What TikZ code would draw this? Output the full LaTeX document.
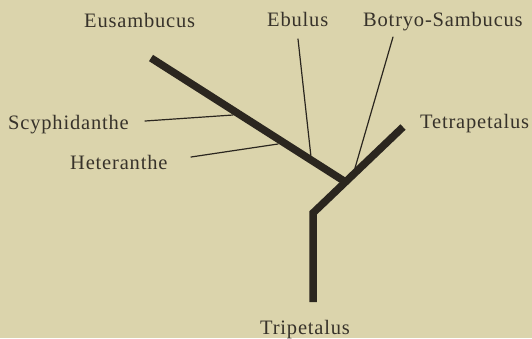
\documentclass[tikz,border=0pt]{standalone}
\usepackage{fontspec}
\setmainfont{Liberation Serif}
\newfontfamily\labfont[LetterSpace=4]{Liberation Serif}
\definecolor{paper}{HTML}{DBD4AC}
\definecolor{ink}{HTML}{2B261F}
\definecolor{txt}{HTML}{37322A}
\tikzset{
  lab/.style={anchor=base west, inner sep=0pt, text=txt, font=\labfont\fontsize{20.5}{24}\selectfont},
  thick branch/.style={draw=ink, line width=7.5pt, line cap=butt, line join=miter},
  thin line/.style={draw=ink, line width=1.2pt, line cap=round}
}
\begin{document}
\begin{tikzpicture}[x=1pt,y=-1pt]
\fill[paper] (0,0) rectangle (532,338);
\useasboundingbox (0,0) rectangle (532,338);
% labels
\node[lab] (eus) at (84,27) {Eusambucus};
\node[lab] (ebu) at (267,26) {Ebulus};
\node[lab] (bot) at (363,26) {Botryo-Sambucus};
\node[lab] (scy) at (8,129) {Scyphidanthe};
\node[lab] (het) at (70,169) {Heteranthe};
\node[lab] (tet) at (420,128) {Tetrapetalus};
\node[lab] (tri) at (260,334) {Tripetalus};
% branch points
\coordinate (eusEnd) at (151,58);
\coordinate (join) at (344,181);
\coordinate (tetEnd) at (403,127);
\coordinate (elbow) at (313,213);
\coordinate (triEnd) at (313,302);
\coordinate (scyA) at (145,121);
\coordinate (scyB) at (233,115);
\coordinate (hetA) at (191,157);
\coordinate (hetB) at (278,144);
\coordinate (ebuA) at (298,39);
\coordinate (ebuB) at (311,157);
\coordinate (botA) at (393,37);
\coordinate (botB) at (355,168);
% thick branches
\draw[thick branch] (eusEnd) -- (join);
\draw[thick branch] (triEnd) -- (elbow) -- (tetEnd);
% thin leader lines
\draw[thin line] (scyA) -- (scyB);
\draw[thin line] (hetA) -- (hetB);
\draw[thin line] (ebuA) -- (ebuB);
\draw[thin line] (botA) -- (botB);
\end{tikzpicture}
\end{document}
